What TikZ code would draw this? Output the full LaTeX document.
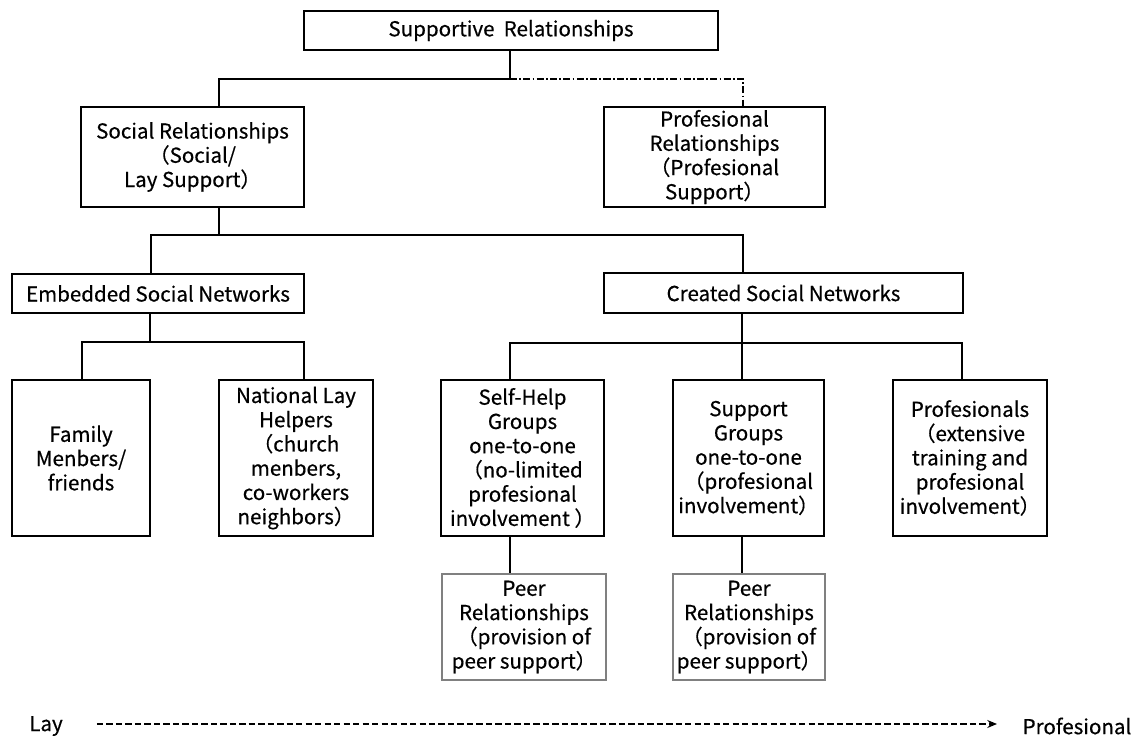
\documentclass[tikz,border=0pt]{standalone}
\usepackage{fontspec}
\setmainfont{Noto Sans CJK JP}[FakeBold=0.5]
\usetikzlibrary{arrows.meta}

\tikzset{
  box/.style={draw, line width=1.1pt, align=center, inner sep=0pt,
    font=\fontsize{11.7}{13.8}\selectfont},
  peerbox/.style={box, draw=gray, line width=0.6pt},
  link/.style={line width=0.7pt},
}

\begin{document}
\begin{tikzpicture}[x=0.02cm, y=-0.02cm]
			\useasboundingbox (0,0) rectangle (1142,742);
			
			% top level
			\node[box, minimum width=8.28cm, minimum height=0.78cm] (sup) at (511,30.5) {Supportive\ \ Relationships};
			
			\node[box, minimum width=4.46cm, minimum height=2cm] (soc) at (192.5,157)
				{Social Relationships\\（Social/\\Lay Support）};
			\node[box, minimum width=4.42cm, minimum height=2cm] (pro) at (714.5,157)
				{Profesional\\Relationships\\（Profesional\\Support）};
			
			% networks
			\node[box, minimum width=5.84cm, minimum height=0.78cm] (emb) at (158,293.5) {Embedded Social Networks};
			\node[box, minimum width=7.18cm, minimum height=0.8cm] (cre) at (783.5,293) {Created Social Networks};
			
			% bottom row
			\node[box, minimum width=2.76cm, minimum height=3.12cm] (fam) at (81,458)
				{Family\\Menbers/\\friends};
			\node[box, minimum width=3.08cm, minimum height=3.12cm] (nat) at (296,458)
				{National Lay\\Helpers\\（church\\menbers,\\co-workers\\neighbors）};
			\node[box, minimum width=3.26cm, minimum height=3.12cm] (sel) at (522.5,458)
				{Self-Help\\Groups\\one-to-one\\（no-limited\\profesional\\involvement ）};
			\node[box, minimum width=3.02cm, minimum height=3.12cm] (sgr) at (748.5,458)
				{Support\\Groups\\one-to-one\\（profesional\\involvement）};
			\node[box, minimum width=3.08cm, minimum height=3.12cm] (prf) at (970,458)
				{Profesionals\\（extensive\\training and\\profesional\\involvement）};
			
			\node[peerbox, minimum width=3.28cm, minimum height=2.12cm] (pe1) at (524,627)
				{Peer\\Relationships\\（provision of\\peer support）};
			\node[peerbox, minimum width=3.04cm, minimum height=2.12cm] (pe2) at (749,627)
				{Peer\\Relationships\\（provision of\\peer support）};
			
			% connectors
			\coordinate (j1) at (510,79);
			\coordinate (s1) at (219,79);
			\coordinate (p1) at (743,79);
			\draw[link] (j1 |- sup.south) -- (j1) -- (s1) -- (s1 |- soc.north);
			\draw[link, dash pattern=on 4pt off 1.3pt on 1pt off 1.3pt] (j1) -- (p1) -- (p1 |- pro.north);
			
			\coordinate (j2) at (219,235);
			\coordinate (e2) at (151,235);
			\coordinate (c2) at (743,235);
			\draw[link] (j2 |- soc.south) -- (j2);
			\draw[link] (e2 |- emb.north) -- (e2) -- (c2) -- (c2 |- cre.north);
			
			\coordinate (j3) at (150,342);
			\coordinate (f3) at (82,342);
			\coordinate (n3) at (304,342);
			\draw[link] (j3 |- emb.south) -- (j3);
			\draw[link] (f3 |- fam.north) -- (f3) -- (n3) -- (n3 |- nat.north);
			
			\coordinate (j4) at (742,343);
			\coordinate (h4) at (510,343);
			\coordinate (r4) at (962,343);
			\draw[link] (j4 |- cre.south) -- (j4 |- sgr.north);
			\draw[link] (h4 |- sel.north) -- (h4) -- (r4) -- (r4 |- prf.north);
			
			\draw[link] (h4 |- sel.south) -- (h4 |- pe1.north);
			\draw[link] (j4 |- sgr.south) -- (j4 |- pe2.north);
			
			% lay -> profesional scale
			\node[font=\fontsize{11.7}{13.8}\selectfont] (lay) at (46,726) {Lay};
			\node[font=\fontsize{11.7}{13.8}\selectfont] (prof) at (1077,726) {Profesional};
			\draw[line width=0.9pt, dash pattern=on 3.6pt off 1.8pt, -{Stealth[length=5.5pt, width=4.5pt]}]
				(lay.east) ++(28,-2) coordinate (a0) (a0) -- (a0 -| 997,0);
		\end{tikzpicture}
\end{document}
